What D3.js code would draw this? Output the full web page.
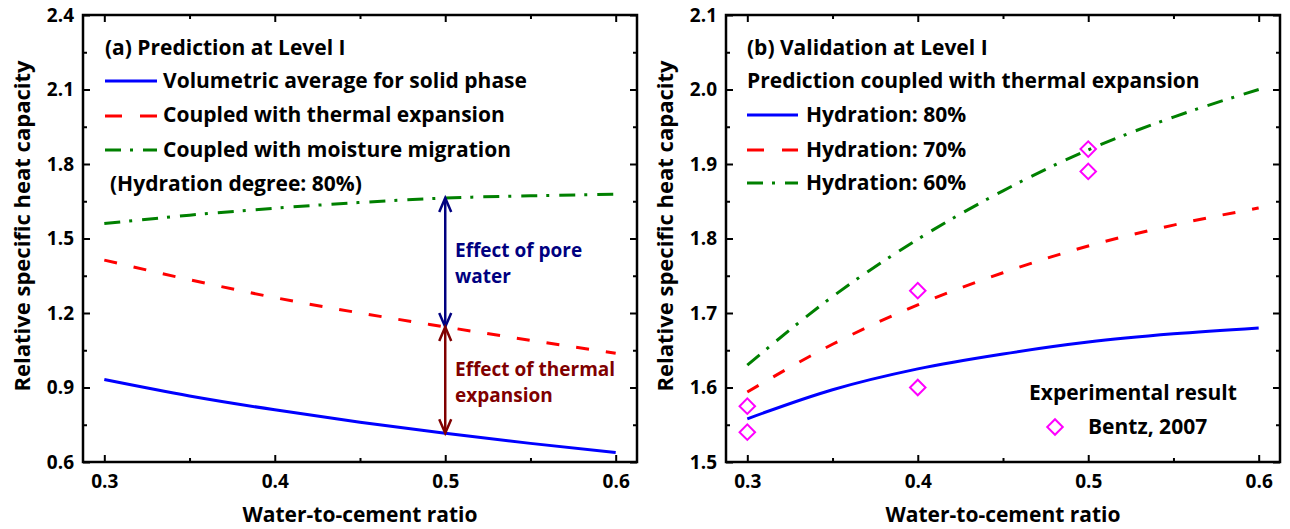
<!DOCTYPE html>
<meta charset="utf-8">
<style type="text/css">
  body { margin: 0; background: #fff; }
  svg text { font-family: "Open Sans", Lato, sans-serif; font-weight: bold; }
  .tick text { font-size: 19px; fill: #000; }
  .axis line { stroke: #000; stroke-width: 2; }
  .axis path { display: none; }
  .frame { fill: none; stroke: #000; stroke-width: 2.5; }
  .curve { fill: none; stroke-width: 3; }
</style>
<body></body>
<script src="https://d3js.org/d3.v7.min.js"></script>
<script>
// water-to-cement ratios used for every curve
var ratios = [0.3, 0.35, 0.4, 0.45, 0.5, 0.55, 0.6];

// (a) prediction at level I
var volumetricA = [0.932, 0.866, 0.810, 0.760, 0.716, 0.675, 0.638];
var thermalA    = [1.413, 1.334, 1.262, 1.200, 1.144, 1.090, 1.038];
var moistureA   = [1.560, 1.594, 1.622, 1.645, 1.663, 1.672, 1.678];

// (b) validation at level I
var hydration80 = [1.558, 1.597, 1.625, 1.645, 1.661, 1.672, 1.680];
var hydration70 = [1.594, 1.658, 1.711, 1.754, 1.790, 1.818, 1.841];
var hydration60 = [1.630, 1.722, 1.799, 1.864, 1.919, 1.963, 2.000];

// Bentz, 2007 experiments
var expRatio = [0.3, 0.3, 0.4, 0.4, 0.5, 0.5];
var expValue = [1.575, 1.540, 1.730, 1.600, 1.920, 1.890];

var xTicks = [0.3, 0.4, 0.5, 0.6];
var xMinor = [0.35, 0.45, 0.55];
var yTicksA = [0.6, 0.9, 1.2, 1.5, 1.8, 2.1, 2.4];
var yMinorA = [0.75, 1.05, 1.35, 1.65, 1.95, 2.25];
var yTicksB = [1.5, 1.6, 1.7, 1.8, 1.9, 2.0, 2.1];
var yMinorB = [1.55, 1.65, 1.75, 1.85, 1.95, 2.05];

var width = 1290, height = 529;
var svg = d3.select("body").append("svg")
    .attr("width", width).attr("height", height);

var plotTop = 15, plotBottom = 462, plotW = 554;

function makePanel(left, yDomain, yTicks, yMinor, yFmt) {
    var g = svg.append("g");
    var x = d3.scaleLinear().domain([0.2875, 0.6125]).range([left, left + plotW]);
    var y = d3.scaleLinear().domain(yDomain).range([plotBottom, plotTop]);

    // bottom axis with labels, inward ticks
    g.append("g").attr("class", "axis").attr("transform", "translate(0," + plotBottom + ")")
        .call(d3.axisBottom(x).tickValues(xTicks).tickSize(-7).tickPadding(13).tickFormat(d3.format(".1f")));
    g.append("g").attr("class", "axis").attr("transform", "translate(0," + plotBottom + ")")
        .call(d3.axisBottom(x).tickValues(xMinor).tickSize(-4).tickFormat(""));
    g.append("g").attr("class", "axis").attr("transform", "translate(0," + plotTop + ")")
        .call(d3.axisTop(x).tickValues(xTicks).tickSize(-7).tickFormat(""));
    g.append("g").attr("class", "axis").attr("transform", "translate(0," + plotTop + ")")
        .call(d3.axisTop(x).tickValues(xMinor).tickSize(-4).tickFormat(""));

    g.append("g").attr("class", "axis").attr("transform", "translate(" + left + ",0)")
        .call(d3.axisLeft(y).tickValues(yTicks).tickSize(-7).tickPadding(9).tickFormat(d3.format(yFmt)));
    g.append("g").attr("class", "axis").attr("transform", "translate(" + left + ",0)")
        .call(d3.axisLeft(y).tickValues(yMinor).tickSize(-4).tickFormat(""));
    g.append("g").attr("class", "axis").attr("transform", "translate(" + (left + plotW) + ",0)")
        .call(d3.axisRight(y).tickValues(yTicks).tickSize(-7).tickFormat(""));
    g.append("g").attr("class", "axis").attr("transform", "translate(" + (left + plotW) + ",0)")
        .call(d3.axisRight(y).tickValues(yMinor).tickSize(-4).tickFormat(""));

    g.append("rect").attr("class", "frame")
        .attr("x", left).attr("y", plotTop).attr("width", plotW).attr("height", plotBottom - plotTop);

    g.append("text")
        .attr("transform", "translate(" + (left - 53) + "," + 226 + ") rotate(-90)")
        .attr("text-anchor", "middle").style("font-size", "22px")
        .text("Relative specific heat capacity");
    g.append("text")
        .attr("x", left + plotW / 2).attr("y", 522)
        .attr("text-anchor", "middle").style("font-size", "21px")
        .text("Water-to-cement ratio");

    return {g: g, x: x, y: y};
}

function drawCurve(p, values, color, dash) {
    var line = d3.line()
        .x(function(d, i) { return p.x(ratios[i]); })
        .y(function(d) { return p.y(d); })
        .curve(d3.curveMonotoneX);
    p.g.append("path").datum(values).attr("class", "curve")
        .attr("stroke", color).attr("stroke-dasharray", dash).attr("d", line);
}

function legendLine(g, x1, x2, yy, color, dash) {
    g.append("line").attr("x1", x1).attr("x2", x2).attr("y1", yy).attr("y2", yy)
        .attr("stroke", color).attr("stroke-width", 3).attr("stroke-dasharray", dash);
}

function label(g, xx, yy, txt, color, size) {
    g.append("text").attr("x", xx).attr("y", yy)
        .style("font-size", (size || 21) + "px").attr("fill", color || "#000").text(txt);
}

var redDash = "13,17";
var greenDash = "16,9,3,10";

// ---- panel (a)
var pa = makePanel(83, [0.6, 2.4], yTicksA, yMinorA, ".1f");
drawCurve(pa, volumetricA, "#0000ff", null);
drawCurve(pa, thermalA, "#ff0000", redDash);
drawCurve(pa, moistureA, "#008000", greenDash);

label(pa.g, 105, 55, "(a) Prediction at Level I");
legendLine(pa.g, 105, 157, 81, "#0000ff", null);
label(pa.g, 163, 88, "Volumetric average for solid phase");
legendLine(pa.g, 105, 157, 116, "#ff0000", "17,18");
label(pa.g, 163, 122, "Coupled with thermal expansion");
legendLine(pa.g, 105, 157, 150, "#008000", greenDash);
label(pa.g, 163, 157, "Coupled with moisture migration");
label(pa.g, 110, 191, "(Hydration degree: 80%)");

// double-headed arrows at w/c = 0.5
function arrow(p, xv, y1v, y2v, color) {
    var xx = p.x(xv), ya = p.y(y1v), yb = p.y(y2v);
    p.g.append("line").attr("x1", xx).attr("x2", xx).attr("y1", ya).attr("y2", yb)
        .attr("stroke", color).attr("stroke-width", 2.5);
    [[ya, 1], [yb, -1]].forEach(function(h) {
        p.g.append("path")
            .attr("d", "M" + (xx - 6) + "," + (h[0] + h[1] * 14) + "L" + xx + "," + h[0] + "L" + (xx + 6) + "," + (h[0] + h[1] * 14))
            .attr("fill", "none").attr("stroke", color).attr("stroke-width", 2.5);
    });
}
arrow(pa, 0.5, moistureA[4], thermalA[4], "#000080");
arrow(pa, 0.5, thermalA[4], volumetricA[4], "#800000");
label(pa.g, 455, 257, "Effect of pore", "#000080", 19);
label(pa.g, 455, 283, "water", "#000080", 19);
label(pa.g, 455, 376, "Effect of thermal", "#800000", 19);
label(pa.g, 455, 402, "expansion", "#800000", 19);

// ---- panel (b)
var pb = makePanel(726, [1.5, 2.1], yTicksB, yMinorB, ".1f");
drawCurve(pb, hydration80, "#0000ff", null);
drawCurve(pb, hydration70, "#ff0000", redDash);
drawCurve(pb, hydration60, "#008000", greenDash);

var diamond = d3.symbol().type(d3.symbolSquare).size(120);
pb.g.selectAll(".exp").data(expValue).enter().append("path")
    .attr("class", "exp")
    .attr("d", diamond)
    .attr("transform", function(d, i) { return "translate(" + pb.x(expRatio[i]) + "," + pb.y(d) + ") rotate(45)"; })
    .attr("fill", "none").attr("stroke", "#ff00ff").attr("stroke-width", 2);

label(pb.g, 747, 55, "(b) Validation at Level I");
label(pb.g, 747, 88, "Prediction coupled with thermal expansion");
legendLine(pb.g, 747, 798, 115, "#0000ff", null);
label(pb.g, 806, 122, "Hydration: 80%");
legendLine(pb.g, 747, 798, 150, "#ff0000", "17,18");
label(pb.g, 806, 157, "Hydration: 70%");
legendLine(pb.g, 747, 798, 183, "#008000", greenDash);
label(pb.g, 806, 190, "Hydration: 60%");

label(pb.g, 1029, 400, "Experimental result");
pb.g.append("path").attr("d", diamond)
    .attr("transform", "translate(1055,427) rotate(45)")
    .attr("fill", "none").attr("stroke", "#ff00ff").attr("stroke-width", 2);
label(pb.g, 1088, 434, "Bentz, 2007");
</script>
